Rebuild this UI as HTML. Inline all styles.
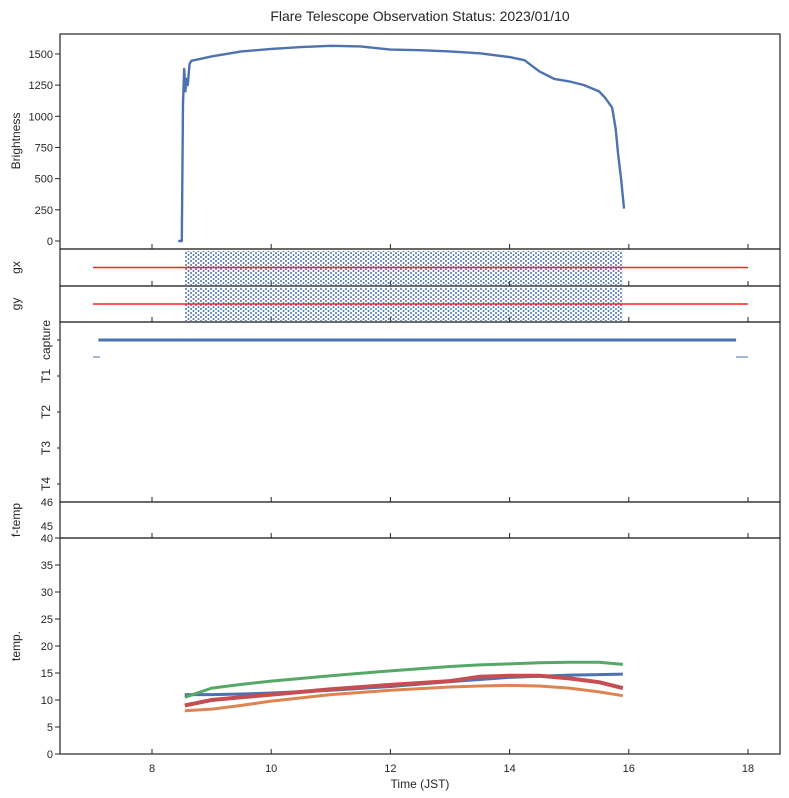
<!DOCTYPE html>
<html><head><meta charset="utf-8"><style>
body{margin:0;background:#fff;}
svg{display:block;font-family:"Liberation Sans","DejaVu Sans",sans-serif;}
text{fill:#262626;}
</style></head><body>
<svg id="c" width="789" height="798" viewBox="0 0 789 798">
<defs>
<pattern id="dots" width="5" height="4" patternUnits="userSpaceOnUse">
<circle cx="1" cy="1" r="1" fill="#4c72b0"/><circle cx="3.5" cy="3" r="1" fill="#4c72b0"/>
</pattern>
</defs>
<text x="420" y="21" font-size="14" text-anchor="middle">Flare Telescope Observation Status: 2023/01/10</text>
<g id="g"></g>
</svg>
<script>
const xTicks=[8,10,12,14,16,18];
const bTime=[8.44,8.5,8.52,8.54,8.56,8.58,8.6,8.63,8.66,9,9.5,10,10.5,11,11.5,12,12.5,13,13.5,14,14.25,14.5,14.75,15,15.25,15.5,15.6,15.72,15.78,15.82,15.87,15.92];
const bVal=[0,0,1100,1380,1200,1300,1250,1420,1445,1480,1520,1540,1555,1565,1560,1535,1530,1520,1505,1475,1450,1360,1300,1280,1250,1200,1150,1070,900,700,500,260];
const bTicks=[0,250,500,750,1000,1250,1500];
const tTime=[8.55,9,9.5,10,11,12,13,13.5,14,14.5,15,15.5,15.9];
const tBlue=[11,11,11.1,11.3,11.8,12.5,13.4,13.8,14.2,14.4,14.6,14.7,14.8];
const tGreen=[10.5,12.2,12.9,13.5,14.5,15.4,16.2,16.5,16.7,16.9,17,17,16.6];
const tOrange=[8,8.3,9,9.8,11,11.8,12.4,12.6,12.7,12.6,12.2,11.5,10.8];
const tRed=[9,10,10.5,11,12,12.8,13.5,14.3,14.5,14.5,14,13.3,12.2];
const tTicks=[0,5,10,15,20,25,30,35,40];
const capLabels=["capture","T1","T2","T3","T4"];
const capStart=[7.1], capEnd=[17.8];
const gxMean=[0], gyMean=[0];
const gStart=[8.5], gEnd=[15.9];

const NS="http://www.w3.org/2000/svg";
const G=document.getElementById('g');
const X0=60,X1=780;
const x=t=>152+(t-8)*59.6;
function el(tag,a,p){const e=document.createElementNS(NS,tag);for(const k in a)e.setAttribute(k,a[k]);(p||G).appendChild(e);return e;}
function txt(s,a){const e=el('text',a);e.textContent=s;return e;}
const panels=[[34,249,'brightness-panel'],[249,286,'gx-panel'],[286,322,'gy-panel'],[322,502,'capture-panel'],[502,538,'ftemp-panel'],[538,754,'temp-panel']];
panels.forEach(p=>{
 const r=el('rect',{x:X0,y:p[0],width:X1-X0,height:p[1]-p[0],fill:'none',stroke:'#262626','stroke-width':1.2});
 
 
 xTicks.forEach(t=>{el('line',{x1:x(t),x2:x(t),y1:p[1],y2:p[1]-5,stroke:'#262626'});});
});
xTicks.forEach(t=>{const e=txt(t,{x:x(t),y:772,'font-size':11,'text-anchor':'middle'});
 
 });
const xl=txt('Time (JST)',{x:420,y:788,'font-size':12,'text-anchor':'middle'});


function ylab(s,cy,name){const e=txt(s,{x:0,y:0,'font-size':12,'text-anchor':'middle',transform:`translate(20,${cy}) rotate(-90)`});
 
 }
// brightness
const yb=v=>241-v*0.1247;
bTicks.forEach(v=>{el('line',{x1:X0,x2:X0-5,y1:yb(v),y2:yb(v),stroke:'#262626'});
 const e=txt(v,{x:53,y:yb(v)+4,'font-size':11,'text-anchor':'end'});
 
 });
ylab('Brightness',141,'brightness-axis-title');
const bl=el('polyline',{points:bTime.map((t,i)=>x(t)+','+yb(bVal[i])).join(' '),fill:'none',stroke:'#4c72b0','stroke-width':2.4,'stroke-linejoin':'round'});


// gx gy
[[249,286,'gx',gxMean[0]],[286,322,'gy',gyMean[0]]].forEach(p=>{
 const cy=(p[0]+p[1])/2;
 const b=el('rect',{x:x(gStart[0])+3,y:p[0]+2,width:x(gEnd[0])-x(gStart[0])-3,height:p[1]-p[0]-3,fill:'url(#dots)'});
 
 
 const l=el('line',{x1:93,x2:x(18),y1:cy-p[3],y2:cy-p[3],stroke:'#ff2020','stroke-width':1.5});
 
 
 ylab(p[2],cy,p[2]+'-axis-title');
});
// capture
capLabels.forEach((s,i)=>{const cy=340+i*36;
 el('line',{x1:X0,x2:X0-3,y1:cy,y2:cy,stroke:'#262626'});
 const e=txt(s,{x:0,y:0,'font-size':12,'text-anchor':'middle',transform:`translate(50,${cy}) rotate(-90)`});
 
 });
const cl=el('line',{x1:x(capStart[0]),x2:x(capEnd[0]),y1:340,y2:340,stroke:'#4c72b0','stroke-width':3});


el('line',{x1:93,x2:100,y1:357,y2:357,stroke:'#4c72b0','stroke-width':1});
el('line',{x1:736,x2:748,y1:357,y2:357,stroke:'#4c72b0','stroke-width':1});
// f-temp
[[46,505],[45,529],[40,541]].forEach(v=>{const e=txt(v[0],{x:53,y:v[1]+1,'font-size':11,'text-anchor':'end'});
 
 });
ylab('f-temp',520,'ftemp-axis-title');
// temp
const yt=v=>754-v*5.4;
tTicks.forEach(v=>{el('line',{x1:X0,x2:X0-5,y1:yt(v),y2:yt(v),stroke:'#262626'});
 if(v<40){const e=txt(v,{x:53,y:yt(v)+4,'font-size':11,'text-anchor':'end'});
 
 }});
ylab('temp.',646,'temp-axis-title');
[[tBlue,'#4c72b0',3,'temp-series-blue'],[tOrange,'#dd8452',3,'temp-series-orange'],[tGreen,'#55a868',3,'temp-series-green'],[tRed,'#c44e52',4,'temp-series-red']].forEach(s=>{
 const p=el('polyline',{points:tTime.map((t,i)=>x(t)+','+yt(s[0][i])).join(' '),fill:'none',stroke:s[1],'stroke-width':s[2],'stroke-linejoin':'round'});
 
 
});
</script>
</body></html>
